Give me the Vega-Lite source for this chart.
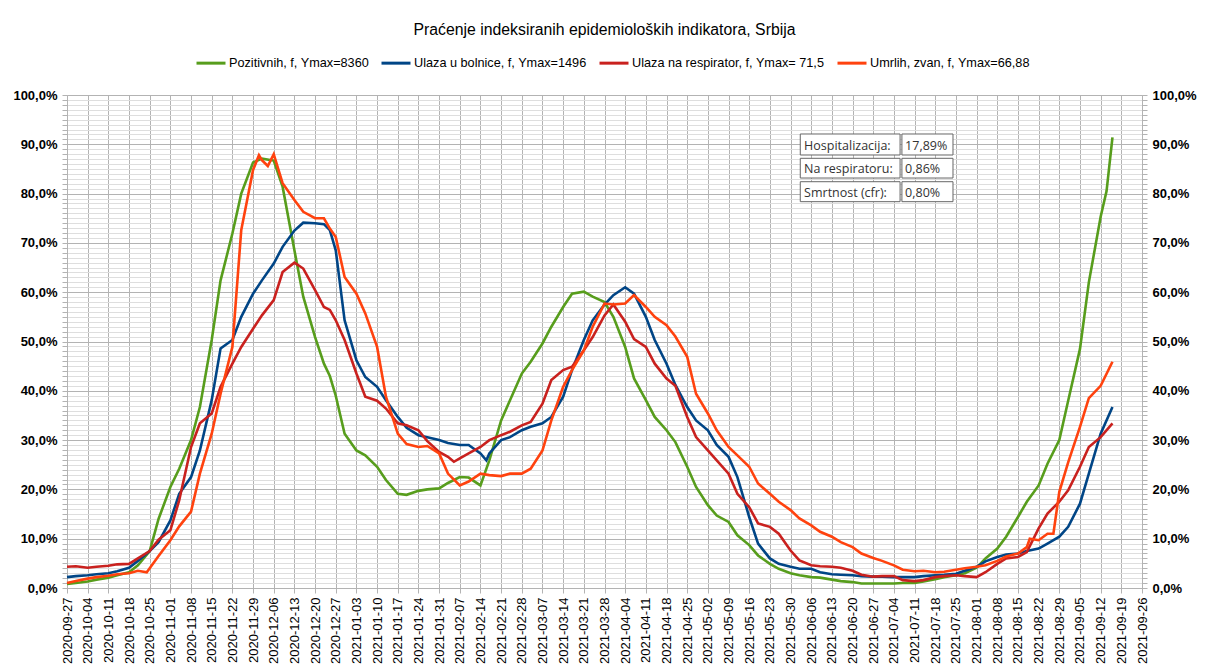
{
  "$schema": "https://vega.github.io/schema/vega-lite/v6.json",
  "width": 1075,
  "height": 493,
  "autosize": {"type": "none"},
  "padding": {"left": 67, "top": 95, "right": 73, "bottom": 77},
  "background": "#ffffff",
  "title": {"text": "Praćenje indeksiranih epidemioloških indikatora, Srbija", "font": "Liberation Sans", "fontSize": 15.8, "fontWeight": "normal", "color": "#000000", "anchor": "middle", "offset": 8},
  "config": {"view": {"stroke": null}, "font": "Liberation Sans"},
  "layer": [
    {
      "data": {"values": [
        {"d":"2020-09-27","P":0.8,"B":2.2,"R":4.3,"U":1.0},
        {"d":"2020-09-30","P":1.0,"B":2.4,"R":4.4,"U":1.4},
        {"d":"2020-10-04","P":1.3,"B":2.6,"R":4.1,"U":1.9},
        {"d":"2020-10-07","P":1.7,"B":2.8,"R":4.3,"U":2.2},
        {"d":"2020-10-11","P":2.1,"B":3.0,"R":4.5,"U":2.5},
        {"d":"2020-10-14","P":2.6,"B":3.4,"R":4.8,"U":2.8},
        {"d":"2020-10-18","P":3.2,"B":4.1,"R":4.9,"U":3.0},
        {"d":"2020-10-21","P":4.6,"B":5.5,"R":6.0,"U":3.5},
        {"d":"2020-10-24","U":3.2},
        {"d":"2020-10-25","P":7.5,"B":7.5,"R":7.5,"U":4.0},
        {"d":"2020-10-28","P":14.0,"B":9.3,"R":9.8,"U":6.5},
        {"d":"2020-11-01","P":20.5,"B":13.7,"R":11.7,"U":9.7},
        {"d":"2020-11-04","P":24.2,"B":19.1,"R":17.8,"U":12.5},
        {"d":"2020-11-08","P":30.0,"B":22.5,"R":28.6,"U":15.5},
        {"d":"2020-11-11","P":36.7,"B":27.9,"R":33.4,"U":23.2},
        {"d":"2020-11-15","P":50.3,"B":38.1,"R":35.4,"U":31.3},
        {"d":"2020-11-18","P":62.4,"B":48.6,"R":40.8,"U":39.4},
        {"d":"2020-11-22","P":71.9,"B":50.3,"R":45.5,"U":48.9},
        {"d":"2020-11-25","P":80.0,"B":55.0,"R":48.9,"U":72.6},
        {"d":"2020-11-29","P":86.3,"B":59.7,"R":52.6,"U":84.8},
        {"d":"2020-12-01","U":87.8},
        {"d":"2020-12-02","P":87.1,"B":62.4,"R":55.3,"U":86.8},
        {"d":"2020-12-04","U":85.6},
        {"d":"2020-12-06","P":86.7,"B":65.8,"R":58.4,"U":88.0},
        {"d":"2020-12-09","P":81.4,"B":69.2,"R":64.1,"U":82.1},
        {"d":"2020-12-13","P":68.5,"B":72.5,"R":66.0,"U":78.7},
        {"d":"2020-12-16","P":59.1,"B":74.1,"R":64.8,"U":76.3},
        {"d":"2020-12-20","P":50.9,"B":74.0,"R":60.4,"U":75.0},
        {"d":"2020-12-23","P":45.5,"B":73.8,"R":57.0,"U":75.0},
        {"d":"2020-12-25","P":43.0,"B":72.6,"R":56.4,"U":72.9},
        {"d":"2020-12-27","P":39.0,"B":68.5,"R":54.3,"U":71.2},
        {"d":"2020-12-30","P":31.3,"B":54.3,"R":50.3,"U":63.1},
        {"d":"2021-01-03","P":27.9,"B":46.2,"R":43.5,"U":59.7},
        {"d":"2021-01-06","P":26.9,"B":42.8,"R":38.8,"U":55.7},
        {"d":"2021-01-10","P":24.6,"B":40.8,"R":38.0,"U":48.9},
        {"d":"2021-01-13","P":21.9,"B":38.1,"R":36.4,"U":38.8},
        {"d":"2021-01-17","P":19.1,"B":34.7,"R":33.4,"U":31.3},
        {"d":"2021-01-20","P":18.9,"B":32.5,"R":33.0,"U":29.2},
        {"d":"2021-01-24","P":19.7,"B":31.0,"R":32.0,"U":28.6},
        {"d":"2021-01-27","P":20.0,"B":30.6,"R":29.8,"U":28.8},
        {"d":"2021-01-31","P":20.2,"B":30.0,"R":27.6,"U":27.3},
        {"d":"2021-02-03","P":21.3,"B":29.4,"R":26.6,"U":23.2},
        {"d":"2021-02-05","R":25.6},
        {"d":"2021-02-07","P":22.5,"B":29.0,"R":26.3,"U":20.8},
        {"d":"2021-02-10","P":22.4,"B":29.0,"R":27.3,"U":21.6},
        {"d":"2021-02-14","P":20.8,"B":27.3,"R":28.6,"U":23.2},
        {"d":"2021-02-16","B":25.9},
        {"d":"2021-02-17","P":25.9,"B":27.3,"R":30.0,"U":22.9},
        {"d":"2021-02-21","P":34.0,"B":30.0,"R":31.0,"U":22.7},
        {"d":"2021-02-24","P":38.1,"B":30.6,"R":31.7,"U":23.2},
        {"d":"2021-02-28","P":43.5,"B":32.0,"R":33.0,"U":23.2},
        {"d":"2021-03-03","P":45.9,"B":32.7,"R":33.7,"U":24.2},
        {"d":"2021-03-07","P":49.6,"B":33.4,"R":37.4,"U":27.9},
        {"d":"2021-03-10","P":53.0,"B":34.7,"R":42.2,"U":34.0},
        {"d":"2021-03-14","P":57.0,"B":38.8,"R":44.2,"U":40.8},
        {"d":"2021-03-17","P":59.7,"B":44.2,"R":44.9,"U":44.2},
        {"d":"2021-03-21","P":60.1,"B":50.3,"R":48.2,"U":48.2},
        {"d":"2021-03-24","P":59.1,"B":54.3,"R":50.9,"U":53.0},
        {"d":"2021-03-28","P":58.0,"B":57.5,"R":55.3,"U":57.7},
        {"d":"2021-03-31","P":55.0,"B":59.4,"R":57.5,"U":57.5},
        {"d":"2021-04-04","P":48.9,"B":61.0,"R":54.0,"U":57.7},
        {"d":"2021-04-07","P":42.5,"B":59.7,"R":50.5,"U":59.4},
        {"d":"2021-04-11","P":38.1,"B":55.0,"R":48.9,"U":57.0},
        {"d":"2021-04-14","P":34.7,"B":50.3,"R":45.5,"U":55.0},
        {"d":"2021-04-18","P":32.0,"B":45.5,"R":42.5,"U":53.3},
        {"d":"2021-04-21","P":29.6,"B":41.2,"R":41.0,"U":51.0},
        {"d":"2021-04-25","P":24.6,"B":36.7,"R":34.7,"U":46.9},
        {"d":"2021-04-28","P":20.5,"B":34.0,"R":30.6,"U":39.4},
        {"d":"2021-05-02","P":16.8,"B":32.0,"R":27.9,"U":35.4},
        {"d":"2021-05-05","P":14.7,"B":29.0,"R":25.9,"U":32.0},
        {"d":"2021-05-09","P":13.4,"B":26.6,"R":23.2,"U":28.6},
        {"d":"2021-05-12","P":10.7,"B":22.5,"R":19.1,"U":26.9},
        {"d":"2021-05-16","P":8.7,"B":14.4,"R":16.4,"U":24.6},
        {"d":"2021-05-19","P":6.6,"B":9.0,"R":13.1,"U":21.2},
        {"d":"2021-05-23","P":4.9,"B":6.0,"R":12.4,"U":19.1},
        {"d":"2021-05-26","P":3.9,"B":4.9,"R":11.0,"U":17.5},
        {"d":"2021-05-30","P":3.0,"B":4.3,"R":7.6,"U":15.8},
        {"d":"2021-06-02","P":2.6,"B":3.9,"R":5.6,"U":14.1},
        {"d":"2021-06-06","P":2.2,"B":3.9,"R":4.6,"U":12.7},
        {"d":"2021-06-09","P":2.1,"B":3.2,"R":4.4,"U":11.4},
        {"d":"2021-06-13","P":1.7,"B":2.8,"R":4.3,"U":10.4},
        {"d":"2021-06-16","P":1.4,"B":2.7,"R":4.1,"U":9.3},
        {"d":"2021-06-20","P":1.2,"B":2.6,"R":3.5,"U":8.3},
        {"d":"2021-06-23","P":0.9,"B":2.4,"R":2.7,"U":7.0},
        {"d":"2021-06-27","P":0.9,"B":2.3,"R":2.3,"U":6.1},
        {"d":"2021-06-30","P":0.9,"B":2.3,"R":2.4,"U":5.5},
        {"d":"2021-07-04","P":0.9,"B":2.2,"R":2.4,"U":4.6},
        {"d":"2021-07-07","P":1.0,"B":2.2,"R":1.6,"U":3.7},
        {"d":"2021-07-11","P":1.0,"B":2.2,"R":1.4,"U":3.4},
        {"d":"2021-07-14","P":1.3,"B":2.4,"R":1.6,"U":3.5},
        {"d":"2021-07-18","P":1.8,"B":2.6,"R":2.2,"U":3.2},
        {"d":"2021-07-21","P":2.2,"B":2.7,"R":2.4,"U":3.3},
        {"d":"2021-07-25","P":2.6,"B":2.9,"R":2.6,"U":3.7},
        {"d":"2021-07-28","P":3.0,"B":3.5,"R":2.4,"U":4.0},
        {"d":"2021-08-01","P":4.1,"B":4.3,"R":2.2,"U":4.3},
        {"d":"2021-08-04","P":6.0,"B":5.4,"R":3.2,"U":4.6},
        {"d":"2021-08-08","P":8.0,"B":6.3,"R":4.9,"U":5.5},
        {"d":"2021-08-11","P":10.4,"B":6.8,"R":6.0,"U":6.4},
        {"d":"2021-08-15","P":14.4,"B":7.0,"R":6.3,"U":7.0},
        {"d":"2021-08-18","P":17.5,"B":7.5,"R":7.3,"U":8.3},
        {"d":"2021-08-19","U":10.0},
        {"d":"2021-08-22","P":20.8,"B":8.0,"R":12.1,"U":9.7},
        {"d":"2021-08-25","P":25.2,"B":9.0,"R":15.1,"U":11.0},
        {"d":"2021-08-27","U":11.0},
        {"d":"2021-08-29","P":30.0,"B":10.4,"R":17.5,"U":19.5},
        {"d":"2021-09-01","P":38.0,"B":12.4,"R":19.8,"U":25.5},
        {"d":"2021-09-05","P":48.5,"B":17.1,"R":24.6,"U":32.7},
        {"d":"2021-09-08","P":62.0,"B":23.2,"R":28.6,"U":38.5},
        {"d":"2021-09-12","P":75.3,"B":31.3,"R":30.6,"U":41.0},
        {"d":"2021-09-14","P":80.5},
        {"d":"2021-09-16","P":91.4,"B":36.7,"R":33.4,"U":45.9}
      ]},
      "transform": [
        {"fold": ["P", "B", "R", "U"], "as": ["s", "v"]},
        {"filter": "isValid(datum.v)"}
      ],
      "layer": [
        {
          "mark": {"type": "line", "strokeWidth": 2.6, "interpolate": "linear"},
          "encoding": {
            "x": {
              "field": "d", "type": "temporal",
              "scale": {"type": "utc", "domain": [{"year": 2020, "month": 9, "date": 27, "utc": true}, {"year": 2021, "month": 9, "date": 26, "utc": true}]},
              "axis": {
                "title": null, "tickCount": {"interval": "week", "step": 1}, "format": "%Y-%m-%d",
                "labelAngle": -90, "labelFont": "Liberation Sans", "labelFontSize": 13, "labelColor": "#000000",
                "grid": true, "gridColor": "#b3b3b3", "gridWidth": 1,
                "tickColor": "#b3b3b3", "tickSize": 5, "domainColor": "#b3b3b3",
                "labelPadding": 4, "labelOverlap": false, "labelFlush": false, "labelBound": false
              }
            },
            "y": {
              "field": "v", "type": "quantitative",
              "scale": {"domain": [0, 100], "nice": false, "zero": true},
              "axis": {
                "orient": "left", "title": null,
                "values": [0,1,2,3,4,5,6,7,8,9,10,11,12,13,14,15,16,17,18,19,20,21,22,23,24,25,26,27,28,29,30,31,32,33,34,35,36,37,38,39,40,41,42,43,44,45,46,47,48,49,50,51,52,53,54,55,56,57,58,59,60,61,62,63,64,65,66,67,68,69,70,71,72,73,74,75,76,77,78,79,80,81,82,83,84,85,86,87,88,89,90,91,92,93,94,95,96,97,98,99,100],
                "labelExpr": "datum.value % 10 === 0 ? replace(format(datum.value, '.1f'), '.', ',') + '%' : ''",
                "grid": true,
                "gridColor": {"condition": {"test": "datum.value % 10 === 0", "value": "#b3b3b3"}, "value": "#dedede"},
                "tickColor": "#b3b3b3", "tickSize": 5, "domainColor": "#b3b3b3",
                "labelFont": "Liberation Sans", "labelFontSize": 13, "labelFontWeight": "bold", "labelColor": "#000000",
                "labelPadding": 5, "labelOverlap": false, "labelBound": false, "labelFlush": false
              }
            },
            "color": {
              "field": "s", "type": "nominal",
              "scale": {"domain": ["P", "B", "R", "U"], "range": ["#579d1c", "#004586", "#c9211e", "#ff420e"]},
              "legend": {
                "orient": "none", "legendX": 128, "legendY": -48, "direction": "horizontal", "title": null,
                "symbolType": "stroke", "symbolSize": 841, "symbolStrokeWidth": 3,
                "labelFont": "Liberation Sans", "labelFontSize": 12.7, "labelColor": "#000000", "labelLimit": 0,
                "labelOffset": 2, "columnPadding": 6, "padding": 0,
                "labelExpr": "datum.label === 'P' ? 'Pozitivnih, f, Ymax=8360' : datum.label === 'B' ? 'Ulaza u bolnice, f, Ymax=1496' : datum.label === 'R' ? 'Ulaza na respirator, f, Ymax= 71,5' : 'Umrlih, zvan, f, Ymax=66,88'"
              }
            }
          }
        },
        {
          "mark": {"type": "line", "opacity": 0},
          "encoding": {
            "x": {"field": "d", "type": "temporal"},
            "y": {
              "field": "v", "type": "quantitative",
              "axis": {
                "orient": "right", "title": null, "grid": false,
                "values": [0,1,2,3,4,5,6,7,8,9,10,11,12,13,14,15,16,17,18,19,20,21,22,23,24,25,26,27,28,29,30,31,32,33,34,35,36,37,38,39,40,41,42,43,44,45,46,47,48,49,50,51,52,53,54,55,56,57,58,59,60,61,62,63,64,65,66,67,68,69,70,71,72,73,74,75,76,77,78,79,80,81,82,83,84,85,86,87,88,89,90,91,92,93,94,95,96,97,98,99,100],
                "labelExpr": "datum.value % 10 === 0 ? replace(format(datum.value, '.1f'), '.', ',') + '%' : ''",
                "tickColor": "#b3b3b3", "tickSize": 5, "domainColor": "#b3b3b3",
                "labelFont": "Liberation Sans", "labelFontSize": 13, "labelFontWeight": "bold", "labelColor": "#000000",
                "labelPadding": 5, "labelOverlap": false, "labelBound": false, "labelFlush": false
              }
            }
          }
        }
      ],
      "resolve": {"axis": {"y": "independent"}}
    },
    {
      "data": {"values": [{"stat": "Hospitalizacija:", "val": "17,89%"}]},
      "layer": [
        {"mark": {"type": "rect", "fill": "#ffffff", "stroke": "#666666", "strokeWidth": 1},
         "encoding": {"x": {"datum": {"year": 2021, "month": 6, "date": 2, "hours": 7, "utc": true}, "type": "temporal"}, "x2": {"datum": {"year": 2021, "month": 7, "date": 6, "hours": 2, "utc": true}}, "y": {"datum": 92.09, "type": "quantitative", "axis": null}, "y2": {"datum": 87.83}}},
        {"mark": {"type": "rect", "fill": "#ffffff", "stroke": "#666666", "strokeWidth": 1},
         "encoding": {"x": {"datum": {"year": 2021, "month": 7, "date": 6, "hours": 17, "utc": true}, "type": "temporal"}, "x2": {"datum": {"year": 2021, "month": 7, "date": 24, "utc": true}}, "y": {"datum": 92.09, "type": "quantitative", "axis": null}, "y2": {"datum": 87.83}}},
        {"mark": {"type": "text", "align": "left", "baseline": "alphabetic", "font": "Open Sans", "fontSize": 12.5, "color": "#333333"},
         "encoding": {"x": {"datum": {"year": 2021, "month": 6, "date": 3, "hours": 14, "utc": true}, "type": "temporal"}, "y": {"datum": 88.84, "type": "quantitative", "axis": null}, "text": {"field": "stat"}}},
        {"mark": {"type": "text", "align": "left", "baseline": "alphabetic", "font": "Open Sans", "fontSize": 12.5, "color": "#333333"},
         "encoding": {"x": {"datum": {"year": 2021, "month": 7, "date": 7, "hours": 19, "utc": true}, "type": "temporal"}, "y": {"datum": 88.84, "type": "quantitative", "axis": null}, "text": {"field": "val"}}}
      ]
    },
    {
      "data": {"values": [{"stat": "Na respiratoru:", "val": "0,86%"}]},
      "layer": [
        {"mark": {"type": "rect", "fill": "#ffffff", "stroke": "#666666", "strokeWidth": 1},
         "encoding": {"x": {"datum": {"year": 2021, "month": 6, "date": 2, "hours": 7, "utc": true}, "type": "temporal"}, "x2": {"datum": {"year": 2021, "month": 7, "date": 6, "hours": 2, "utc": true}}, "y": {"datum": 87.16, "type": "quantitative", "axis": null}, "y2": {"datum": 83.16}}},
        {"mark": {"type": "rect", "fill": "#ffffff", "stroke": "#666666", "strokeWidth": 1},
         "encoding": {"x": {"datum": {"year": 2021, "month": 7, "date": 6, "hours": 17, "utc": true}, "type": "temporal"}, "x2": {"datum": {"year": 2021, "month": 7, "date": 24, "utc": true}}, "y": {"datum": 87.16, "type": "quantitative", "axis": null}, "y2": {"datum": 83.16}}},
        {"mark": {"type": "text", "align": "left", "baseline": "alphabetic", "font": "Open Sans", "fontSize": 12.5, "color": "#333333"},
         "encoding": {"x": {"datum": {"year": 2021, "month": 6, "date": 3, "hours": 14, "utc": true}, "type": "temporal"}, "y": {"datum": 84.18, "type": "quantitative", "axis": null}, "text": {"field": "stat"}}},
        {"mark": {"type": "text", "align": "left", "baseline": "alphabetic", "font": "Open Sans", "fontSize": 12.5, "color": "#333333"},
         "encoding": {"x": {"datum": {"year": 2021, "month": 7, "date": 7, "hours": 19, "utc": true}, "type": "temporal"}, "y": {"datum": 84.18, "type": "quantitative", "axis": null}, "text": {"field": "val"}}}
      ]
    },
    {
      "data": {"values": [{"stat": "Smrtnost (cfr):", "val": "0,80%"}]},
      "layer": [
        {"mark": {"type": "rect", "fill": "#ffffff", "stroke": "#666666", "strokeWidth": 1},
         "encoding": {"x": {"datum": {"year": 2021, "month": 6, "date": 2, "hours": 7, "utc": true}, "type": "temporal"}, "x2": {"datum": {"year": 2021, "month": 7, "date": 6, "hours": 2, "utc": true}}, "y": {"datum": 82.41, "type": "quantitative", "axis": null}, "y2": {"datum": 78.36}}},
        {"mark": {"type": "rect", "fill": "#ffffff", "stroke": "#666666", "strokeWidth": 1},
         "encoding": {"x": {"datum": {"year": 2021, "month": 7, "date": 6, "hours": 17, "utc": true}, "type": "temporal"}, "x2": {"datum": {"year": 2021, "month": 7, "date": 24, "utc": true}}, "y": {"datum": 82.41, "type": "quantitative", "axis": null}, "y2": {"datum": 78.36}}},
        {"mark": {"type": "text", "align": "left", "baseline": "alphabetic", "font": "Open Sans", "fontSize": 12.5, "color": "#333333"},
         "encoding": {"x": {"datum": {"year": 2021, "month": 6, "date": 3, "hours": 14, "utc": true}, "type": "temporal"}, "y": {"datum": 79.31, "type": "quantitative", "axis": null}, "text": {"field": "stat"}}},
        {"mark": {"type": "text", "align": "left", "baseline": "alphabetic", "font": "Open Sans", "fontSize": 12.5, "color": "#333333"},
         "encoding": {"x": {"datum": {"year": 2021, "month": 7, "date": 7, "hours": 19, "utc": true}, "type": "temporal"}, "y": {"datum": 79.31, "type": "quantitative", "axis": null}, "text": {"field": "val"}}}
      ]
    }
  ]
}
